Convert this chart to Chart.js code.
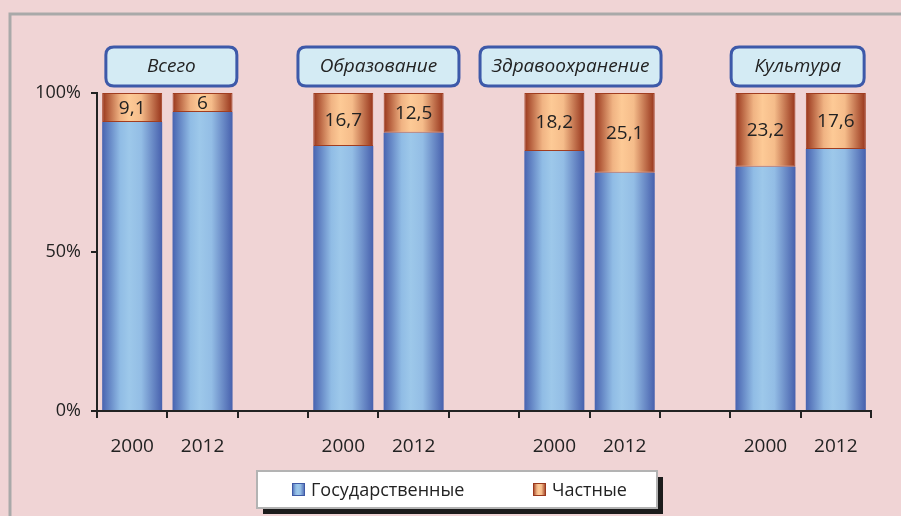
<!DOCTYPE html>
<html>
<head>
<meta charset="utf-8">
<script src="https://cdn.jsdelivr.net/npm/chart.js@4"></script>
<style>
  html, body { margin: 0; padding: 0; background: #f0d4d5; }
  #wrap { width: 901px; height: 516px; position: relative; }
</style>
</head>
<body>
<div id="wrap"><canvas id="chart" width="901" height="516"></canvas></div>
<script>
// categories (empty ones separate the groups)
const years = ['2000', '2012', '', '2000', '2012', '', '2000', '2012', '', '2000', '2012'];
const groupNames = ['Всего', 'Образование', 'Здравоохранение', 'Культура'];
// shares, %
const stateShare = [90.9, 94, null, 83.3, 87.5, null, 81.8, 74.9, null, 76.8, 82.4];
const privateShare = [9.1, 6, null, 16.7, 12.5, null, 18.2, 25.1, null, 23.2, 17.6];
const yTicks = [0, 50, 100];

const FONT = '"Open Sans", "Noto Sans", sans-serif';
const BAR_PCT = 0.853;

function barGradient(c, stops, fallback) {
    const chart = c.chart;
    if (!chart.chartArea || c.dataIndex === undefined) return fallback;
    const xs = chart.scales.x;
    const cx = xs.getPixelForValue(c.dataIndex);
    const half = (xs.width / years.length) * BAR_PCT / 2;
    const g = chart.ctx.createLinearGradient(cx - half, 0, cx + half, 0);
    stops.forEach(s => g.addColorStop(s[0], s[1]));
    return g;
}

const blueStops = [[0, '#4863b0'], [0.3, '#90bce5'], [0.45, '#9dc8ea'], [0.65, '#93bde5'], [1, '#4760ad']];
const orangeStops = [[0, '#98351b'], [0.3, '#f0b383'], [0.45, '#fdca96'], [0.65, '#f5bc8a'], [1, '#96331a']];

// background + frame
const framePlugin = {
    id: 'frame',
    beforeDraw(chart) {
        const ctx = chart.ctx;
        ctx.save();
        ctx.fillStyle = '#f0d4d5';
        ctx.fillRect(0, 0, chart.width, chart.height);
        ctx.strokeStyle = '#a9a9a9';
        ctx.lineWidth = 3;
        ctx.beginPath();
        ctx.moveTo(10, chart.height + 5);
        ctx.lineTo(10, 14);
        ctx.lineTo(chart.width + 5, 14);
        ctx.stroke();
        ctx.restore();
    }
};

function roundRect(ctx, x, y, w, h, r) {
    ctx.beginPath();
    ctx.moveTo(x + r, y);
    ctx.lineTo(x + w - r, y);
    ctx.quadraticCurveTo(x + w, y, x + w, y + r);
    ctx.lineTo(x + w, y + h - r);
    ctx.quadraticCurveTo(x + w, y + h, x + w - r, y + h);
    ctx.lineTo(x + r, y + h);
    ctx.quadraticCurveTo(x, y + h, x, y + h - r);
    ctx.lineTo(x, y + r);
    ctx.quadraticCurveTo(x, y, x + r, y);
    ctx.closePath();
}

// group headers above each pair of bars
const headerPlugin = {
    id: 'headers',
    afterDraw(chart, args, opts) {
        const ctx = chart.ctx;
        const xs = chart.scales.x;
        const top = chart.chartArea.top;
        ctx.save();
        groupNames.forEach((name, g) => {
            const x1 = xs.getPixelForValue(g * 3);
            const x2 = xs.getPixelForValue(g * 3 + 1);
            const box = opts.boxes[g];
            const cx = (x1 + x2) / 2 + box.dx;
            const y = top - 46, h = 39;
            roundRect(ctx, cx - box.w / 2, y, box.w, h, 8);
            ctx.fillStyle = '#d4ebf4';
            ctx.fill();
            ctx.strokeStyle = '#3d59a9';
            ctx.lineWidth = 3;
            ctx.stroke();
            ctx.fillStyle = '#222';
            ctx.font = 'italic 19px ' + FONT;
            ctx.textAlign = 'center';
            ctx.textBaseline = 'middle';
            ctx.fillText(name, cx, y + h / 2);
        });
        ctx.restore();
    }
};

// values inside the private segments
const valuePlugin = {
    id: 'values',
    afterDatasetsDraw(chart) {
        const ctx = chart.ctx;
        const meta = chart.getDatasetMeta(1);
        ctx.save();
        ctx.fillStyle = '#222';
        ctx.font = '19px ' + FONT;
        ctx.textAlign = 'center';
        ctx.textBaseline = 'middle';
        meta.data.forEach((bar, i) => {
            const v = privateShare[i];
            if (v === null) return;
            ctx.fillText(String(v).replace('.', ','), bar.x, (bar.y + bar.base) / 2 + 1);
        });
        ctx.restore();
    }
};

// boxed legend with shadow
const legendPlugin = {
    id: 'boxLegend',
    afterDraw(chart) {
        const ctx = chart.ctx;
        const bx = 257, by = 471, bw = 400, bh = 37;
        ctx.save();
        ctx.fillStyle = '#1c1c1c';
        ctx.fillRect(bx + 6, by + 6, bw, bh);
        ctx.fillStyle = '#ffffff';
        ctx.fillRect(bx, by, bw, bh);
        ctx.strokeStyle = '#b3b3b3';
        ctx.lineWidth = 2;
        ctx.strokeRect(bx, by, bw, bh);
        const items = [
            { x: 292, stops: blueStops, border: '#3f5aa6' },
            { x: 533, stops: orangeStops, border: '#9a381d' }
        ];
        chart.data.datasets.forEach((ds, i) => {
            const it = items[i];
            const g = ctx.createLinearGradient(it.x, 0, it.x + 13, 0);
            it.stops.forEach(s => g.addColorStop(s[0], s[1]));
            ctx.fillStyle = g;
            ctx.fillRect(it.x, by + 12, 13, 13);
            ctx.strokeStyle = it.border;
            ctx.lineWidth = 1;
            ctx.strokeRect(it.x + 0.5, by + 12.5, 12, 12);
            ctx.fillStyle = '#222';
            ctx.font = '18px ' + FONT;
            ctx.textAlign = 'left';
            ctx.textBaseline = 'middle';
            ctx.fillText(ds.label, it.x + 19, by + bh / 2 + 1);
        });
        ctx.restore();
    }
};

new Chart(document.getElementById('chart').getContext('2d'), {
    type: 'bar',
    data: {
        labels: years,
        datasets: [{
            label: 'Государственные',
            data: stateShare,
            backgroundColor: c => barGradient(c, blueStops, '#6f95cf'),
            borderWidth: 0
        }, {
            label: 'Частные',
            data: privateShare,
            backgroundColor: c => barGradient(c, orangeStops, '#e0956a'),
            borderColor: '#a13d20',
            borderWidth: 1,
            borderSkipped: false
        }]
    },
    options: {
        responsive: false,
        animation: false,
        devicePixelRatio: 1,
        categoryPercentage: 1,
        barPercentage: BAR_PCT,
        layout: { padding: { top: 93, right: 30, left: 0, bottom: 0 } },
        scales: {
            x: {
                stacked: true,
                afterFit: s => { s.height = 105; },
                grid: {
                    offset: true,
                    drawOnChartArea: false,
                    drawTicks: true,
                    tickLength: 7,
                    color: '#222',
                    lineWidth: 2
                },
                border: { display: true, color: '#222', width: 2 },
                ticks: {
                    autoSkip: false,
                    maxRotation: 0,
                    padding: 17,
                    color: '#222',
                    font: { family: FONT, size: 19 }
                }
            },
            y: {
                stacked: true,
                min: 0,
                max: 100,
                afterFit: s => { s.width = 97; },
                afterBuildTicks: s => { s.ticks = yTicks.map(v => ({ value: v })); },
                grid: {
                    drawOnChartArea: false,
                    drawTicks: true,
                    tickLength: 6,
                    color: '#222',
                    lineWidth: 2
                },
                border: { display: true, color: '#222', width: 2 },
                ticks: {
                    padding: 10,
                    color: '#222',
                    font: { family: FONT, size: 18 },
                    callback: v => v + '%'
                }
            }
        },
        plugins: {
            legend: { display: false },
            tooltip: { enabled: false },
            headers: {
                boxes: [
                    { w: 131, dx: 4 },
                    { w: 161, dx: 0 },
                    { w: 181, dx: -19 },
                    { w: 133, dx: -3 }
                ]
            }
        }
    },
    plugins: [framePlugin, headerPlugin, valuePlugin, legendPlugin]
});
</script>
</body>
</html>
